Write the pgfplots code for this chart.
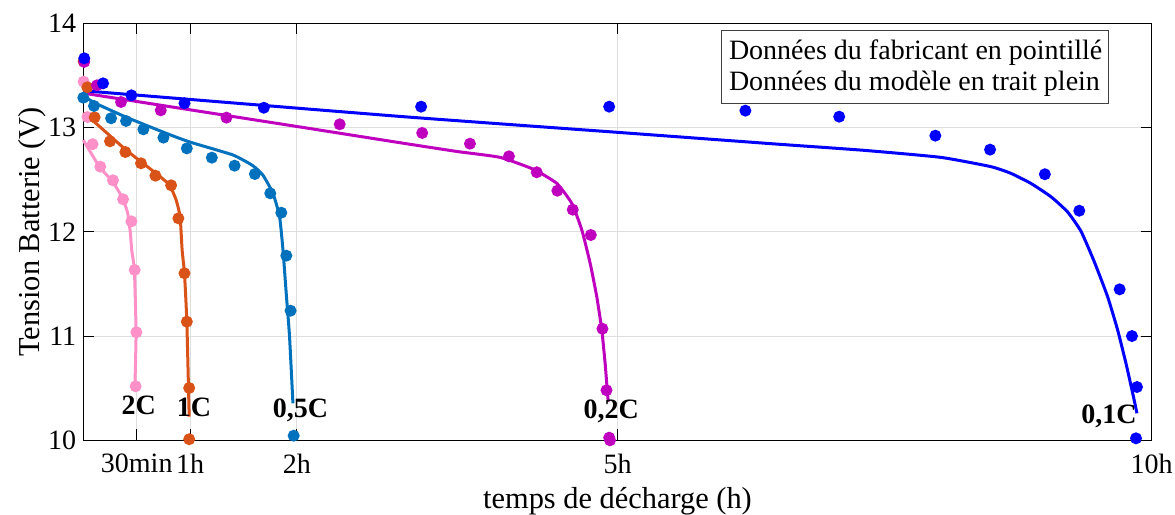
\documentclass[border=0pt]{standalone}
\usepackage{pgfplots}
\pgfplotsset{compat=1.18}
\usepackage{fontspec}
\setmainfont{Liberation Serif}
\definecolor{c01}{RGB}{0,0,255}
\definecolor{c02}{RGB}{191,0,191}
\definecolor{c05}{RGB}{0,114,189}
\definecolor{c1}{RGB}{217,83,25}
\definecolor{c2}{RGB}{255,145,200}
\definecolor{gridgray}{RGB}{222,222,222}
\begin{document}
\begin{tikzpicture}
\begin{axis}[name=ax, scale only axis, width=534.2pt, height=208.5pt,
  xmin=0, xmax=10, ymin=10, ymax=14,
  xtick={0.5,1,2,5,10}, xticklabels={30min,1h,2h,5h,10h},
  ytick={10,11,12,13,14},
  tick align=inside, major tick length=5.5pt,
  grid=major, major grid style={color=gridgray, line width=0.5pt},
  axis line style={line width=0.5pt},
  tick style={black, line width=0.5pt},
  /pgf/number format/assume math mode=true,
  tick label style={font=\fontsize{14}{16}\selectfont},
  xticklabel style={yshift=-3.5pt},
  label style={font=\fontsize{15.2}{18}\selectfont},
  xlabel={temps de décharge (h)},
  ylabel={Tension Batterie (V)},
  xlabel style={at={(axis description cs:0.5,-0.163)}, anchor=base},
  ylabel style={at={(axis description cs:-0.0406,0.5)}, anchor=base},
  clip=false,
  every axis plot/.append style={line width=1.5pt},
  dots/.style={only marks, mark=*, mark size=2.2pt},
]
% 2C
\addplot[c2, smooth, tension=0.3] coordinates {(0,12.88)(0.15,12.625)(0.275,12.48)(0.369,12.32)(0.416,12.177)(0.441,11.985)(0.453,11.825)(0.478,11.634)(0.494,11.036)(0.484,10.56)};
\addplot[c2, dots, mark options={fill=c2, draw=c2}] coordinates {(0.003,13.44)(0.04,13.10)(0.087,12.84)(0.159,12.625)(0.278,12.494)(0.372,12.312)(0.45,12.10)(0.481,11.634)(0.497,11.036)(0.49,10.518)};
% 1C
\addplot[c1, smooth, tension=0.3] coordinates {(0,13.14)(0.119,13.04)(0.4,12.785)(0.68,12.561)(0.806,12.45)(0.869,12.305)(0.906,12.145)(0.925,11.825)(0.947,11.60)(0.969,11.138)(0.991,10.226)};
\addplot[c1, dots, mark options={fill=c1, draw=c1}] coordinates {(0.003,13.635)(0.0375,13.386)(0.106,13.098)(0.25,12.868)(0.394,12.765)(0.54,12.657)(0.675,12.538)(0.822,12.446)(0.89,12.129)(0.947,11.602)(0.969,11.138)(0.991,10.502)(0.991,10.01)};
% 0.5C
\addplot[c05, smooth, tension=0.3] coordinates {(0,13.30)(0.12,13.23)(0.4,13.10)(0.775,12.945)(1.0,12.86)(1.4,12.737)(1.587,12.634)(1.68,12.545)(1.775,12.37)(1.837,12.145)(1.869,11.825)(1.90,11.4)(1.93,11.0)(1.962,10.355)};
\addplot[c05, dots, mark options={fill=c05, draw=c05}] coordinates {(0.0,13.286)(0.1,13.207)(0.26,13.089)(0.4,13.063)(0.5625,12.983)(0.75,12.903)(0.969,12.80)(1.203,12.711)(1.416,12.634)(1.606,12.554)(1.75,12.369)(1.853,12.183)(1.9,11.771)(1.94,11.243)(1.969,10.044)};
% 0.2C
\addplot[c02, smooth, tension=0.3] coordinates {(0,13.33)(1,13.17)(2,13.01)(2.96,12.855)(3.5,12.77)(3.9,12.714)(4.212,12.60)(4.431,12.465)(4.572,12.273)(4.666,12.017)(4.744,11.698)(4.806,11.377)(4.853,11.058)(4.884,10.739)(4.909,10.418)(4.915,10.37)};
\addplot[c02, dots, mark options={fill=c02, draw=c02}] coordinates {(0.009,13.63)(0.128,13.405)(0.353,13.245)(0.725,13.165)(1.34,13.095)(2.40,13.031)(3.172,12.948)(3.619,12.845)(3.984,12.724)(4.244,12.571)(4.437,12.394)(4.581,12.212)(4.75,11.969)(4.859,11.07)(4.897,10.48)(4.922,10.025)(4.93,10.0)};
% 0.1C
\addplot[c01, smooth, tension=0.3] coordinates {(0,13.353)(2.96,13.107)(5.0,12.954)(6.48,12.842)(7.3,12.782)(8.025,12.714)(8.494,12.625)(8.681,12.561)(8.868,12.465)(9.056,12.337)(9.213,12.190)(9.338,12.005)(9.462,11.714)(9.587,11.378)(9.681,11.058)(9.759,10.738)(9.822,10.451)(9.862,10.259)};
\addplot[c01, dots, mark options={fill=c01, draw=c01}] coordinates {(0.009,13.664)(0.185,13.424)(0.45,13.309)(0.947,13.233)(1.69,13.19)(3.162,13.20)(4.922,13.20)(6.197,13.162)(7.075,13.104)(7.975,12.922)(8.487,12.788)(9.0,12.552)(9.322,12.202)(9.70,11.448)(9.815,11.0)(9.862,10.511)(9.853,10.019)};
% labels
\node[anchor=base, font=\fontsize{14}{16}\selectfont\bfseries] at (axis cs:0.519,10.252) {2C};
\node[anchor=base, font=\fontsize{14}{16}\selectfont\bfseries] at (axis cs:1.036,10.226) {1C};
\node[anchor=base, font=\fontsize{14}{16}\selectfont\bfseries] at (axis cs:2.032,10.217) {0,5C};
\node[anchor=base, font=\fontsize{14}{16}\selectfont\bfseries] at (axis cs:4.942,10.21) {0,2C};
\node[anchor=base, font=\fontsize{14}{16}\selectfont\bfseries] at (axis cs:9.6,10.163) {0,1C};
% annotation box
\draw[black!75, fill=white, line width=0.5pt] (axis cs:5.972,13.929) rectangle (axis cs:9.597,13.233);
\node[anchor=base west, inner sep=0pt, font=\fontsize{14}{16}\selectfont] at (axis cs:6.040,13.654) {Données du fabricant en pointillé};
\node[anchor=base west, inner sep=0pt, font=\fontsize{14}{16}\selectfont] at (axis cs:6.040,13.353) {Données du modèle en trait plein};
\end{axis}
\pgfresetboundingbox
\path[use as bounding box] ([shift={(-41.65pt,-37.35pt)}]ax.south west) rectangle ([shift={(11.65pt,11.65pt)}]ax.north east);
\end{tikzpicture}
\end{document}
